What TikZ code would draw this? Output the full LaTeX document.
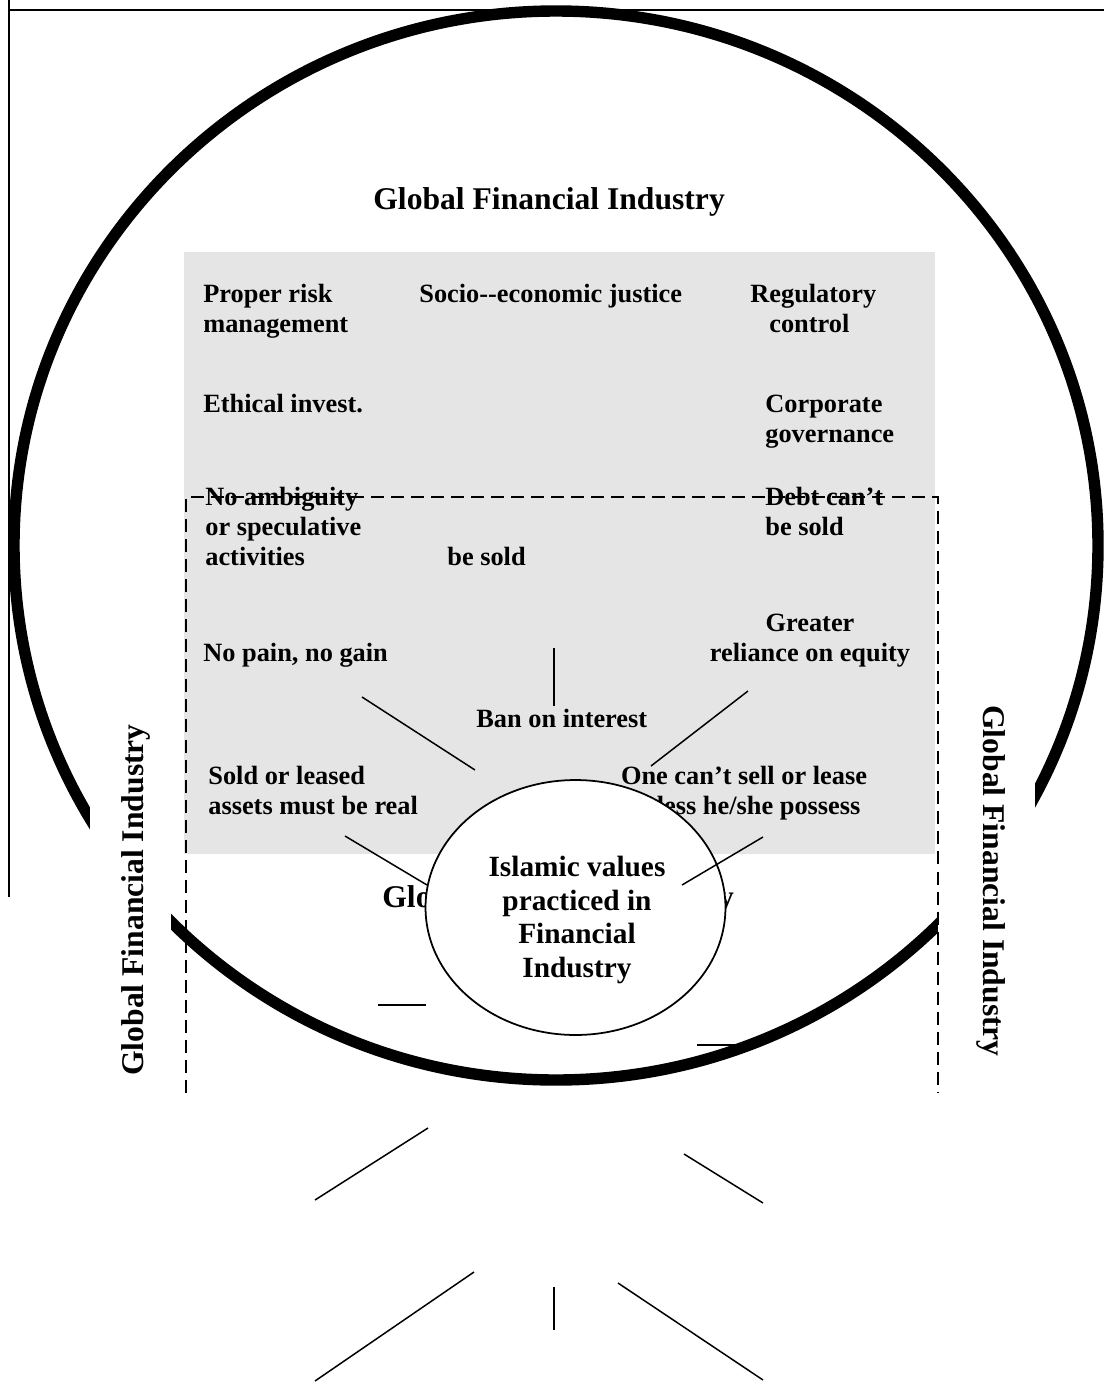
\documentclass[tikz,border=0pt]{standalone}
\usepackage{fontspec}
\setmainfont{Liberation Serif}
\usetikzlibrary{shapes.geometric}
\definecolor{panelgray}{RGB}{229,229,229}
\tikzset{
  frame-line/.style={line width=1.1pt},
  ring/.style={line width=6.5pt},
  thin-link/.style={line width=0.85pt},
  dash-box/.style={line width=1.6pt, dash pattern=on 7.4pt off 4pt},
  item-text/.style={font=\fontsize{15}{17}\selectfont\bfseries, align=left, inner sep=0pt},
  item-mid/.style={item-text, align=center},
  head-text/.style={font=\fontsize{18}{21}\selectfont\bfseries, inner sep=0pt},
  core-shape/.style={ellipse, draw=black, line width=1pt, fill=white,
    minimum width=6cm, minimum height=5.1cm, inner sep=0pt},
  core-text/.style={font=\fontsize{16.7}{19}\selectfont\bfseries, align=center, inner sep=0pt}
}

\begin{document}
\begin{tikzpicture}[x=0.02cm, y=-0.02cm]
  \useasboundingbox (0,0) rectangle (1104,1383);
  % Page frame
  \draw[frame-line] (9,0) -- (9,897);
  \draw[frame-line] (9,10) -- (1104,10);
  % Shaded panel
  \fill[panelgray] (184,252) rectangle (935,854);
  % Top heading
  \node[head-text, anchor=base west] (top-title) at (373,209) {Global Financial Industry};
  % Principles (base = last line)
  \node[item-text, anchor=base west] (risk) at (203,332) {Proper risk\\management};
  \node[item-text, anchor=base west] (justice) at (419,302) {Socio-{}-economic justice};
  \node[item-text, anchor=base west] (regulatory) at (750,332) {Regulatory\\\hspace*{10.8pt}control};
  \node[item-text, anchor=base west] (ethical) at (203,412) {Ethical invest.};
  \node[item-text, anchor=base west] (governance) at (765,442) {Corporate\\governance};
  \node[item-text, anchor=base west] (ambiguity) at (205,565) {No ambiguity\\or speculative\\activities};
  \node[item-text, anchor=base west] (sold) at (447,565) {be sold};
  \node[item-text, anchor=base west] (debt) at (765,535) {Debt can’t\\be sold};
  \node[item-text, anchor=base west] (pain) at (203,661) {No pain, no gain};
  \node[item-mid, anchor=base] (equity) at (810,661) {Greater\\reliance on equity};
  \node[item-text, anchor=base west] (interest) at (476,727) {Ban on interest};
  \node[item-text, anchor=base west] (real) at (208,814) {Sold or leased\\assets must be real};
  \node[item-mid, anchor=base] (possess) at (744,814) {One can’t sell or lease\\unless he/she possess};
  % Heading hidden by the core
  \node[head-text, anchor=base west] (mid-title) at (382,907) {Global Financial Industry};
  % Spokes
  \draw[thin-link] (554,648) -- (554,706);
  \draw[thin-link] (362,697) -- (475,770);
  \draw[thin-link] (748,691) -- (651,766);
  \draw[thin-link] (345,836) -- (427,885);
  % Outer ring
  \draw[ring] (556,545.5) ellipse [x radius=542, y radius=534.5];
  % Side headings
  \fill[white] (90,700) rectangle (171,1090);
  \fill[white] (938,690) rectangle (1035,1075);
  \node[head-text, rotate=90, anchor=base] (left-title) at (143,900) {Global Financial Industry};
  \node[head-text, rotate=-90, anchor=base] (right-title) at (983,881) {Global Financial Industry};
  % Core
  \node[core-shape] (core) at (575.5,907.5) {};
  \node[core-text, anchor=base] (core-label) at (577,977) {Islamic values\\practiced in\\Financial\\Industry};
  \draw[thin-link] (763,837) -- (682,885);
  \draw[thin-link] (378,1005) -- (426,1005);
  \draw[thin-link] (697,1045) -- (742,1045);
  % Dashed boundary
  \draw[dash-box] (186,1093) -- (186,497) -- (938,497) -- (938,1093);
  % Lower spokes
  \draw[thin-link] (428,1128) -- (315,1200);
  \draw[thin-link] (684,1154) -- (763,1203);
  \draw[thin-link] (474,1272) -- (315,1381);
  \draw[thin-link] (554,1287) -- (554,1330);
  \draw[thin-link] (618,1283) -- (763,1380);
\end{tikzpicture}
\end{document}
